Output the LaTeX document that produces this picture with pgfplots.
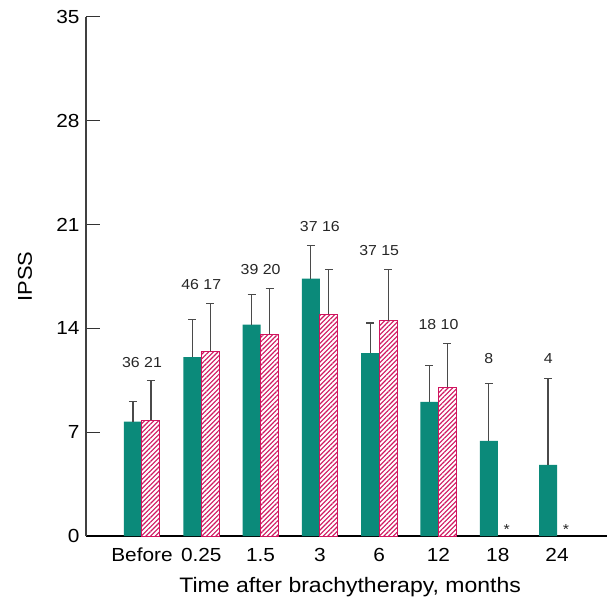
\documentclass[border=0pt]{standalone}
\usepackage{fontspec}
\setmainfont{Liberation Sans}[FakeStretch=1.1]
\usepackage{pgfplots}
\pgfplotsset{compat=1.18}
\usetikzlibrary{patterns.meta}

\definecolor{tealc}{HTML}{0B8A7A}
\definecolor{pinkc}{HTML}{D0155F}
\definecolor{errc}{HTML}{4A4A4A}

\begin{document}
\begin{tikzpicture}
\begin{axis}[
    scale only axis,
    width=521bp, height=519bp,
    xmin=-0.944, xmax=7.842,
    ymin=0, ymax=35,
    axis x line=bottom, axis y line=left,
    axis line style={-, line width=1.1bp},
    x axis line style={black},
    y axis line style={black!75},
    ytick={0,7,...,35},
    xtick={0,...,7},
    xticklabels={Before,0.25,1.5,3,6,12,18,24},
    xtick style={draw=none},
    ytick style={black!80, line width=1bp},
    tick align=inside,
    major tick length=14bp,
    /pgf/number format/assume math mode=true,
    tick label style={font=\fontsize{19}{22}\selectfont},
    xticklabel style={anchor=base, yshift=-11bp},
    yticklabel style={xshift=-3bp},
    label style={font=\fontsize{21}{24}\selectfont},
    xlabel={Time after brachytherapy, months},
    xlabel style={at={(axis description cs:0.507,-0.1098)}, anchor=base},
    ylabel={IPSS},
    ylabel style={at={(axis description cs:-0.117,0.5)}, anchor=center, font=\fontsize{20}{24}\selectfont},
    ybar=0pt, bar width=18bp,
    clip=false,
]
% teal bars
\addplot[fill=tealc, draw=none,
    error bars/.cd, y dir=plus, y explicit,
    error bar style={errc, line width=1.2bp},
    error mark=-,
    error mark options={rotate=90, errc, line width=1.2bp, mark size=4bp}]
  coordinates {
    (0,7.71)  +- (0,1.35)
    (1,12.07) +- (0,2.54)
    (2,14.25) +- (0,2.05)
    (3,17.35) +- (0,2.23)
    (4,12.34) +- (0,2.02)
    (5,9.04)  +- (0,2.46)
    (6,6.41)  +- (0,3.86)
    (7,4.79)  +- (0,5.84)
  };
% hatched bars
\addplot[draw=pinkc, line width=1bp, fill=white,
    postaction={pattern={Lines[angle=45,distance=3.3bp,line width=1.1bp]}, pattern color=pinkc},
    error bars/.cd, y dir=plus, y explicit,
    error bar style={errc, line width=1.2bp},
    error mark=-,
    error mark options={rotate=90, errc, line width=1.2bp, mark size=4bp}]
  coordinates {
    (0,7.80)  +- (0,2.67)
    (1,12.45) +- (0,3.21)
    (2,13.60) +- (0,3.10)
    (3,14.97) +- (0,3.01)
    (4,14.50) +- (0,3.48)
    (5,10.03) +- (0,2.96)
  };
% sample sizes
\begin{scope}[every node/.style={font=\fontsize{14.5}{17}\selectfont, text=black!85}]
\node at (axis cs:0,11.73) {36 21};
\node at (axis cs:1,16.93) {46 17};
\node at (axis cs:2,18.00) {39 20};
\node at (axis cs:3,20.90) {37 16};
\node at (axis cs:4,19.24) {37 15};
\node at (axis cs:5,14.23) {18 10};
\node at (axis cs:5.85,11.94) {8};
\node at (axis cs:6.85,11.94) {4};
\node[anchor=south, inner sep=1bp] at (axis cs:6.152,0) {*};
\node[anchor=south, inner sep=1bp] at (axis cs:7.152,0) {*};
\end{scope}
\end{axis}
\pgfresetboundingbox
\path (-86bp,-62bp) rectangle (521bp,536bp);
\end{tikzpicture}
\end{document}
